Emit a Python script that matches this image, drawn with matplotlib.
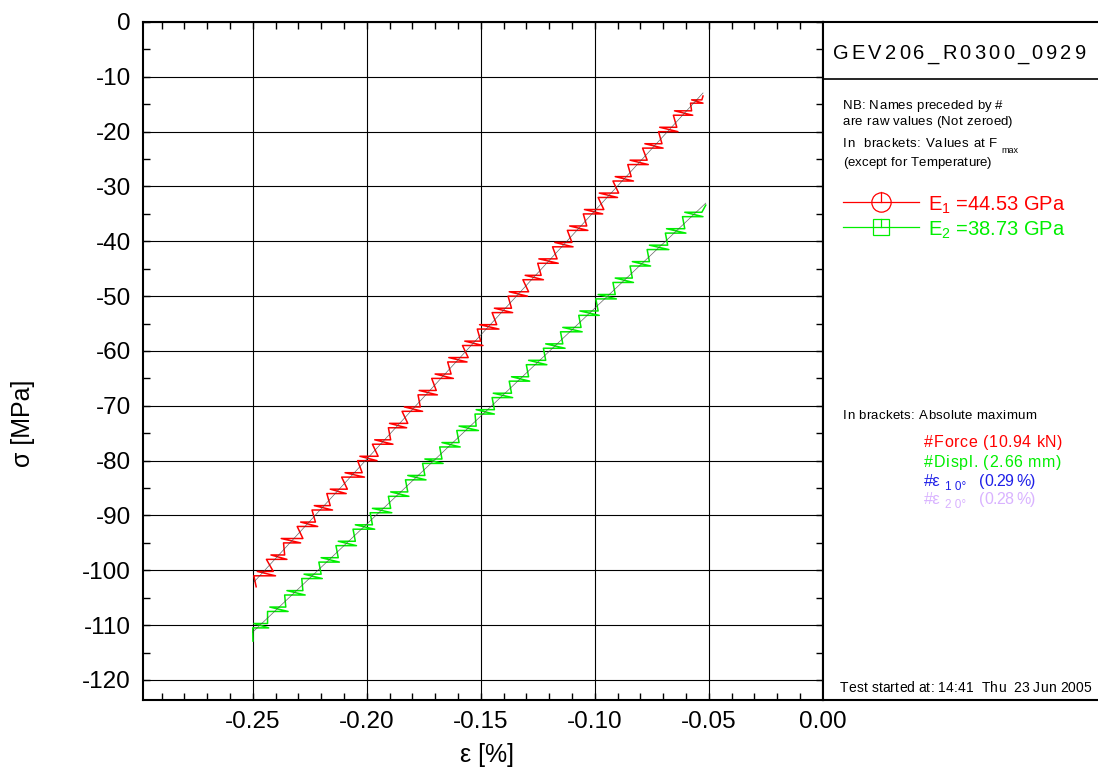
import numpy as np
import matplotlib
matplotlib.use("Agg")
import matplotlib.pyplot as plt
from matplotlib.ticker import MultipleLocator, FormatStrFormatter
from matplotlib import font_manager
from matplotlib.ft2font import FT2Font

DPI = 100
W, H = 1098, 773

plt.rcParams["font.family"] = ["Liberation Sans", "DejaVu Sans"]
plt.rcParams["mathtext.default"] = "regular"

# strain [%] / stress [MPa] (stepwise zig-zag record)
red_strain = [-0.2485,
              -0.2495, -0.2400, -0.2480, -0.2410,
              -0.2440, -0.2350, -0.2420, -0.2360,
              -0.2365, -0.2290, -0.2375, -0.2280,
              -0.2305, -0.2215, -0.2290, -0.2225,
              -0.2240, -0.2150, -0.2230, -0.2160,
              -0.2175, -0.2090, -0.2160, -0.2085,
              -0.2110, -0.2010, -0.2095, -0.2020,
              -0.2040, -0.1955, -0.2030, -0.1950,
              -0.1975, -0.1885, -0.1965, -0.1895,
              -0.1905, -0.1825, -0.1900, -0.1820,
              -0.1845, -0.1755, -0.1835, -0.1765,
              -0.1775, -0.1690, -0.1770, -0.1695,
              -0.1715, -0.1620, -0.1700, -0.1630,
              -0.1645, -0.1560, -0.1640, -0.1555,
              -0.1580, -0.1490, -0.1570, -0.1500,
              -0.1515, -0.1420, -0.1505, -0.1430,
              -0.1450, -0.1360, -0.1440, -0.1365,
              -0.1380, -0.1295, -0.1375, -0.1290,
              -0.1315, -0.1225, -0.1305, -0.1235,
              -0.1250, -0.1160, -0.1245, -0.1165,
              -0.1185, -0.1095, -0.1175, -0.1100,
              -0.1120, -0.1030, -0.1110, -0.1035,
              -0.1050, -0.0965, -0.1045, -0.0960,
              -0.0985, -0.0900, -0.0980, -0.0895,
              -0.0920, -0.0830, -0.0910, -0.0840,
              -0.0855, -0.0765, -0.0845, -0.0770,
              -0.0790, -0.0700, -0.0780, -0.0705,
              -0.0720, -0.0635, -0.0715, -0.0640,
              -0.0655, -0.0570, -0.0650, -0.0575,
              -0.0580, -0.0525, -0.0575, -0.0530,
              -0.0525]
red_stress = [-103.0,
              -101.0, -101.0, -100.2, -100.2,
              -98.0, -98.0, -97.2, -97.2,
              -95.0, -95.0, -94.2, -94.2,
              -92.0, -92.0, -91.2, -91.2,
              -89.0, -89.0, -88.2, -88.2,
              -86.0, -86.0, -85.2, -85.2,
              -83.0, -83.0, -82.2, -82.2,
              -80.0, -80.0, -79.2, -79.2,
              -77.0, -77.0, -76.2, -76.2,
              -74.0, -74.0, -73.2, -73.2,
              -71.0, -71.0, -70.2, -70.2,
              -68.0, -68.0, -67.2, -67.2,
              -65.0, -65.0, -64.2, -64.2,
              -62.0, -62.0, -61.2, -61.2,
              -59.0, -59.0, -58.2, -58.2,
              -56.0, -56.0, -55.2, -55.2,
              -53.0, -53.0, -52.2, -52.2,
              -50.0, -50.0, -49.2, -49.2,
              -47.0, -47.0, -46.2, -46.2,
              -44.0, -44.0, -43.2, -43.2,
              -41.0, -41.0, -40.2, -40.2,
              -38.0, -38.0, -37.2, -37.2,
              -35.0, -35.0, -34.2, -34.2,
              -32.0, -32.0, -31.2, -31.2,
              -29.0, -29.0, -28.2, -28.2,
              -26.0, -26.0, -25.2, -25.2,
              -23.0, -23.0, -22.2, -22.2,
              -20.0, -20.0, -19.2, -19.2,
              -17.0, -17.0, -16.2, -16.2,
              -14.8, -14.8, -14.2, -14.2,
              -13.5]

green_strain = [-0.2499,
                -0.2500, -0.2430, -0.2495, -0.2435,
                -0.2435, -0.2345, -0.2425, -0.2355,
                -0.2360, -0.2270, -0.2350, -0.2280,
                -0.2285, -0.2195, -0.2275, -0.2200,
                -0.2210, -0.2120, -0.2200, -0.2125,
                -0.2135, -0.2045, -0.2125, -0.2050,
                -0.2060, -0.1965, -0.2050, -0.1975,
                -0.1985, -0.1890, -0.1975, -0.1895,
                -0.1905, -0.1815, -0.1895, -0.1820,
                -0.1830, -0.1740, -0.1820, -0.1745,
                -0.1755, -0.1665, -0.1745, -0.1670,
                -0.1680, -0.1590, -0.1670, -0.1595,
                -0.1605, -0.1510, -0.1595, -0.1520,
                -0.1525, -0.1440, -0.1520, -0.1440,
                -0.1450, -0.1360, -0.1445, -0.1365,
                -0.1375, -0.1285, -0.1365, -0.1290,
                -0.1300, -0.1210, -0.1290, -0.1215,
                -0.1225, -0.1130, -0.1215, -0.1140,
                -0.1150, -0.1055, -0.1140, -0.1060,
                -0.1070, -0.0980, -0.1065, -0.0985,
                -0.0995, -0.0905, -0.0985, -0.0910,
                -0.0920, -0.0830, -0.0910, -0.0835,
                -0.0845, -0.0755, -0.0835, -0.0760,
                -0.0770, -0.0675, -0.0760, -0.0680,
                -0.0690, -0.0600, -0.0685, -0.0605,
                -0.0615, -0.0525, -0.0605, -0.0530,
                -0.0513]
green_stress = [-112.9,
                -110.5, -110.5, -109.7, -109.7,
                -107.5, -107.5, -106.7, -106.7,
                -104.5, -104.5, -103.7, -103.7,
                -101.5, -101.5, -100.7, -100.7,
                -98.5, -98.5, -97.7, -97.7,
                -95.5, -95.5, -94.7, -94.7,
                -92.5, -92.5, -91.7, -91.7,
                -89.5, -89.5, -88.7, -88.7,
                -86.5, -86.5, -85.7, -85.7,
                -83.5, -83.5, -82.7, -82.7,
                -80.5, -80.5, -79.7, -79.7,
                -77.5, -77.5, -76.7, -76.7,
                -74.5, -74.5, -73.7, -73.7,
                -71.5, -71.5, -70.7, -70.7,
                -68.5, -68.5, -67.7, -67.7,
                -65.5, -65.5, -64.7, -64.7,
                -62.5, -62.5, -61.7, -61.7,
                -59.5, -59.5, -58.7, -58.7,
                -56.5, -56.5, -55.7, -55.7,
                -53.5, -53.5, -52.7, -52.7,
                -50.5, -50.5, -49.7, -49.7,
                -47.5, -47.5, -46.7, -46.7,
                -44.5, -44.5, -43.7, -43.7,
                -41.5, -41.5, -40.7, -40.7,
                -38.5, -38.5, -37.7, -37.7,
                -35.5, -35.5, -34.7, -34.7,
                -33.4]

specimen = "GEV206_R0300_0929"
moduli = ["E$_1$ =44.53 GPa", "E$_2$ =38.73 GPa"]
max_labels = ["#Force (10.94 kN)", "#Displ. (2.66 mm)"]
strain_max = ["(0.29 %)", "(0.28 %)"]
started = "Test started at: 14:41  Thu  23 Jun 2005"

RED = "#ff0000"
GREEN = "#00ee00"
BLUE = "#2020e8"
LILAC = "#d9b3ff"

FONT_PATH = font_manager.findfont(font_manager.FontProperties(family="Liberation Sans"))


def spaced_text(ax, x, y, s, size, width, color="black"):
    """Write s char by char (letter spaced) so that it spans about width px."""
    font = FT2Font(FONT_PATH)
    font.set_size(size, DPI)
    adv = [font.load_char(ord(c)).linearHoriAdvance / 65536 for c in s]
    track = (width - sum(adv)) / max(len(s) - 1, 1)
    pos = x
    for c, a in zip(s, adv):
        if c != " ":
            ax.text(pos, y, c, fontsize=size, color=color, ha="left", va="baseline")
        pos += a + track


fig = plt.figure(figsize=(W / DPI, H / DPI), dpi=DPI)

x0, x1, y0, y1 = 143.3, 822.7, 700, 22
ax = fig.add_axes([x0 / W, 1 - y0 / H, (x1 - x0) / W, (y0 - y1) / H])

ax.plot(red_strain, red_stress, color=RED, lw=1.1, zorder=3)
ax.plot(green_strain, green_stress, color=GREEN, lw=1.1, zorder=3)

# modulus fit lines, mostly hidden under the records
for xs, ys in [(red_strain, red_stress), (green_strain, green_stress)]:
    coef = np.polyfit(xs, ys, 1)
    xe = np.array([min(xs), max(xs)])
    ax.plot(xe, np.polyval(coef, xe), color="#404040", lw=0.5, zorder=3.5, alpha=0.8)

ax.set_xlim(-0.298, 0.0)
ax.set_ylim(-123.65, 0)
ax.xaxis.set_major_locator(MultipleLocator(0.05))
ax.xaxis.set_minor_locator(MultipleLocator(0.01))
ax.yaxis.set_major_locator(MultipleLocator(10))
ax.yaxis.set_minor_locator(MultipleLocator(5))
ax.xaxis.set_major_formatter(FormatStrFormatter("%.2f"))
ax.yaxis.set_major_formatter(FormatStrFormatter("%d"))
ax.grid(True, which="major", color="black", lw=0.8)
ax.tick_params(which="both", direction="in", top=True, right=True, width=1.0)
ax.tick_params(which="major", length=5, labelsize=17.5)
ax.tick_params(which="minor", length=5)
ax.tick_params(axis="x", pad=8)
ax.tick_params(axis="y", pad=9)
for sp in ax.spines.values():
    sp.set_linewidth(1.5)

ax.set_xlabel("ε [%]", fontsize=18)
ax.xaxis.set_label_coords(0.506, -0.064)
ax.set_ylabel("σ [MPa]", fontsize=18)
ax.yaxis.set_label_coords(-0.16, 0.4086)

# side panel, in pixel units
pw, ph = W - x1, y0 - y1
pan = fig.add_axes([x1 / W, 1 - y0 / H, pw / W, ph / H])
pan.set_xlim(0, pw)
pan.set_ylim(ph, 0)
pan.set_xticks([])
pan.set_yticks([])
pan.spines["right"].set_visible(False)
for side in ["top", "bottom", "left"]:
    pan.spines[side].set_linewidth(1.5)
pan.axhline(57, color="black", lw=1.2)

spaced_text(pan, 10, 37.3, specimen, 14.5, 253)
spaced_text(pan, 20, 87.3, "NB: Names preceded by #", 9.5, 160)
spaced_text(pan, 20, 103, "are raw values (Not zeroed)", 9.5, 170)
spaced_text(pan, 20, 125.3, "In  brackets: Values at F", 9.5, 154.7)
pan.text(179, 130.7, "max", fontsize=6.5, va="baseline")
spaced_text(pan, 20, 144, "(except for Temperature)", 9.5, 149)

# legend rows
pan.plot([20, 96], [180, 180], color=RED, lw=0.9)
pan.plot([58], [180], marker="o", ms=13.9, mfc="none", mec=RED, mew=0.9)
pan.plot([58, 58], [170.3, 180], color=RED, lw=0.9)
pan.plot([20, 96], [205, 205], color=GREEN, lw=0.9)
pan.plot([58], [205], marker="s", ms=12, mfc="none", mec=GREEN, mew=0.9)
pan.plot([58, 58], [197, 205], color=GREEN, lw=0.9)
pan.text(105, 188.7, moduli[0], fontsize=14.5, color=RED, va="baseline")
pan.text(105, 214, moduli[1], fontsize=14.5, color=GREEN, va="baseline")

spaced_text(pan, 20, 396.7, "In brackets: Absolute maximum", 9.5, 193)
spaced_text(pan, 101.7, 424.7, max_labels[0], 11.5, 138, RED)
spaced_text(pan, 101.7, 444.7, max_labels[1], 11.5, 137.3, GREEN)

for base, col, idx, val in [(463.7, BLUE, "1", strain_max[0]), (482, LILAC, "2", strain_max[1])]:
    pan.text(101.7, base, "#ε", fontsize=12, color=col, va="baseline")
    pan.text(122, base + 4.5, idx + " 0°", fontsize=8.5, color=col, va="baseline")
    spaced_text(pan, 156.7, base, val, 11.5, 56, col)

spaced_text(pan, 17.3, 670.3, started, 10, 251)

fig.savefig("out.png", dpi=DPI)
